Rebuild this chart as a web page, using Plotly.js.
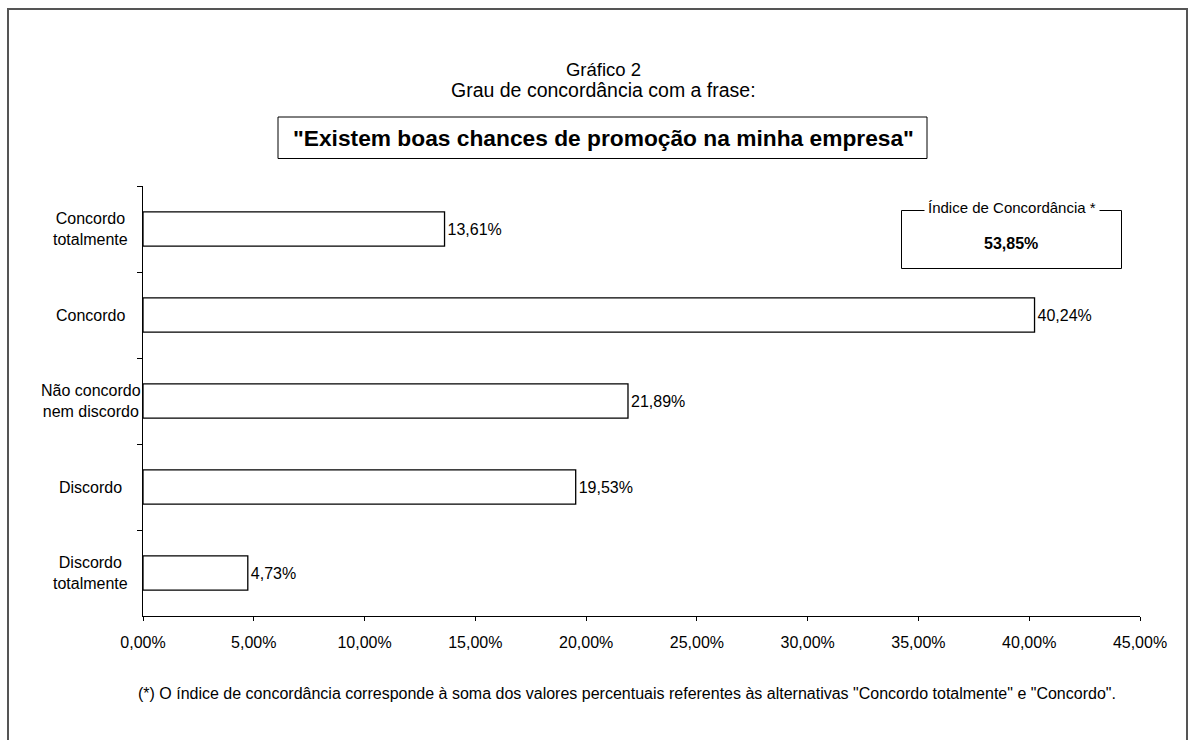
<!DOCTYPE html>
<html>
<head>
<meta charset="utf-8">
<script src="https://cdn.plot.ly/plotly-3.0.1.min.js"></script>
<style>html,body{margin:0;padding:0;background:#fff;}#chart{width:1192px;height:740px;}</style>
</head>
<body>
<div id="chart"></div>
<script>
const categories = ["Concordo<br>totalmente", "Concordo", "Não concordo<br>nem discordo", "Discordo", "Discordo<br>totalmente"];
const values = [13.61, 40.24, 21.89, 19.53, 4.73];
const xTickValues = [0, 5, 10, 15, 20, 25, 30, 35, 40, 45];
const xTickLabels = ["0,00%", "5,00%", "10,00%", "15,00%", "20,00%", "25,00%", "30,00%", "35,00%", "40,00%", "45,00%"];
const indexLabel = "Índice de Concordância *";
const indexValueText = "53,85%";
const titleText = "Gráfico 2";
const subtitleText = "Grau de concordância com a frase:";
const quoteText = "\"Existem boas chances de promoção na minha empresa\"";
const footnoteText = "(*) O índice de concordância corresponde à soma dos valores percentuais referentes às alternativas \"Concordo totalmente\" e \"Concordo\".";

const FONT = "Liberation Sans, Arial, sans-serif";
const W = 1192, H = 740;
const M = {l: 143, r: 52, t: 186, b: 124};
const PW = W - M.l - M.r, PH = H - M.t - M.b;
const px = x => (x - M.l) / PW;
const py = y => (H - M.b - y) / PH;

const trace = {
  type: "bar",
  orientation: "h",
  y: categories,
  x: values,
  width: 0.4,
  marker: {color: "#ffffff", line: {color: "#000000", width: 1.3}},
  texttemplate: "%{x:.2f}%",
  textposition: "outside",
  textfont: {family: FONT, size: 16, color: "#000"},
  cliponaxis: false,
  hoverinfo: "skip"
};

const catAnnotations = categories.map(c => ({
  xref: "paper", yref: "y", x: px(90.5), y: c, text: c,
  showarrow: false, xanchor: "center", yanchor: "middle", align: "center",
  font: {family: FONT, size: 16, color: "#000"}
}));

const layout = {
  width: W, height: H,
  margin: M,
  paper_bgcolor: "#fff", plot_bgcolor: "#fff",
  separators: ",.",
  showlegend: false,
  font: {family: FONT, size: 16, color: "#000"},
  title: {
    text: titleText,
    font: {family: FONT, size: 18.5, color: "#000"},
    x: 603.5 / W, xref: "container", xanchor: "center",
    y: 1 - 70 / H, yref: "container", yanchor: "middle"
  },
  xaxis: {
    range: [0, 45],
    tickvals: xTickValues,
    ticktext: xTickLabels,
    showline: true, linecolor: "#000", linewidth: 1,
    ticks: "outside", ticklen: 4, tickcolor: "#000", tickwidth: 1,
    ticklabelstandoff: 8,
    showgrid: false, zeroline: false,
    tickfont: {family: FONT, size: 16, color: "#000"},
    fixedrange: true
  },
  yaxis: {
    type: "category",
    categoryorder: "array", categoryarray: categories,
    autorange: "reversed",
    showline: true, linecolor: "#000", linewidth: 1,
    ticks: "outside", ticklen: 5, tickcolor: "#000", tickwidth: 1,
    tickson: "boundaries",
    showticklabels: false,
    showgrid: false, zeroline: false,
    fixedrange: true
  },
  shapes: [
    {type: "rect", xref: "paper", yref: "paper", x0: px(8), x1: px(1187), y0: py(9), y1: py(760),
     line: {color: "#555", width: 2}, fillcolor: "rgba(0,0,0,0)", layer: "above"},
    {type: "rect", xref: "paper", yref: "paper", x0: px(278), x1: px(927), y0: py(117), y1: py(158.5),
     line: {color: "#000", width: 1}, fillcolor: "rgba(0,0,0,0)"},
    {type: "rect", xref: "paper", yref: "paper", x0: px(901.5), x1: px(1121.5), y0: py(210.5), y1: py(268.5),
     line: {color: "#000", width: 1}, fillcolor: "rgba(0,0,0,0)"}
  ],
  annotations: catAnnotations.concat([
    {xref: "paper", yref: "paper", x: px(603.5), y: py(89.5), text: subtitleText,
     showarrow: false, xanchor: "center", yanchor: "middle", font: {family: FONT, size: 19.5, color: "#000"}},
    {xref: "paper", yref: "paper", x: px(603.5), y: py(137.5), text: "<b>" + quoteText + "</b>",
     showarrow: false, xanchor: "center", yanchor: "middle", font: {family: FONT, size: 22.75, color: "#000"}},
    {xref: "paper", yref: "paper", x: px(1012), y: py(208), text: indexLabel,
     showarrow: false, xanchor: "center", yanchor: "middle", bgcolor: "#fff", borderpad: 3,
     font: {family: FONT, size: 15, color: "#000"}},
    {xref: "paper", yref: "paper", x: px(1011), y: py(243), text: "<b>" + indexValueText + "</b>",
     showarrow: false, xanchor: "center", yanchor: "middle", font: {family: FONT, size: 16, color: "#000"}},
    {xref: "paper", yref: "paper", x: px(626.5), y: py(693), text: footnoteText,
     showarrow: false, xanchor: "center", yanchor: "middle", font: {family: FONT, size: 16, color: "#000"}}
  ])
};

Plotly.newPlot("chart", [trace], layout, {displayModeBar: false, staticPlot: true});
</script>
</body>
</html>
